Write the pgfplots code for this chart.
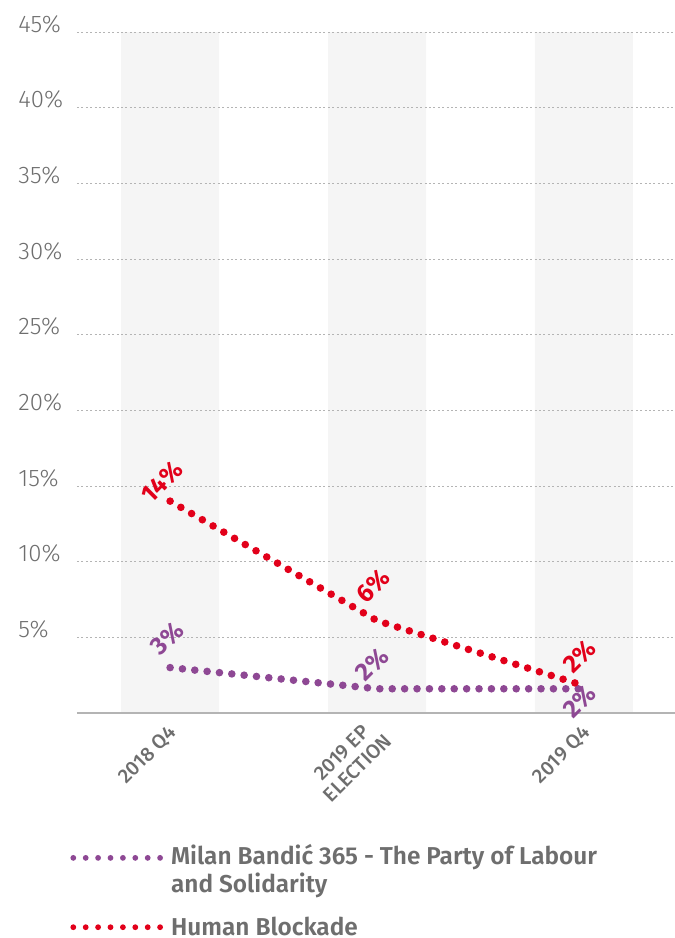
\documentclass[border=0pt]{standalone}
\usepackage{fontspec}
\setmainfont{Fira Sans}
\newfontfamily\firalight{Fira Sans Light}
\newfontfamily\firamed{Fira Sans Medium}
\newfontfamily\firasemi{Fira Sans SemiBold}
\usepackage{pgfplots}
\usepackage{pgfplotstable}
\pgfplotsset{compat=1.18}

\definecolor{hbred}{HTML}{E2001A}
\definecolor{mbpurple}{HTML}{8E4894}
\definecolor{txtgray}{HTML}{6E6E6E}
\definecolor{band}{HTML}{F5F5F5}
\definecolor{gridgray}{HTML}{B4B4B4}

% x: 0 = 2018 Q4, 1 = 2019 EP election, 2 = 2019 Q4
\pgfplotstableread{
x y lab dx dy
0 3.0 3 -1.5 14.5
1 1.6 2 -2.5 12
2 1.6 2 -2 -6.5
}\milan
\pgfplotstableread{
x y lab dx dy
0 14.0 14 -4 9.5
1 6.1 6 -2 17.5
2 1.8 2 -2 14.5
}\blockade
\pgfplotstableread{
x y
0 45
1 45
2 45
}\bands

\begin{document}
\begin{tikzpicture}
\begin{axis}[
    at={(0,0)}, anchor=south west,
    set layers,
    scale only axis,
    width=299pt, height=340.5pt,
    xmin=-0.45, xmax=2.44,
    ymin=0, ymax=45,
    axis lines*=left,
    y axis line style={draw=none},
    x axis line style={draw=gridgray, line width=0.7pt},
    major tick length=0pt,
    xtick={0,1,2},
    xticklabels={2018 Q4, {2019 EP\\ELECTION}, 2019 Q4},
    xticklabel style={font=\firamed\fontsize{10}{11}\selectfont, text=txtgray,
        align=center, xshift=4pt, yshift=-6pt, rotate=45, anchor=east},
    ytick={5,10,...,45},
    yticklabel={\pgfmathprintnumber{\tick}\%},
    yticklabel style={font=\firalight\fontsize{12}{13}\selectfont, text=txtgray,
        anchor=base west, inner sep=0pt, xshift=-29.5pt},
    /pgf/number format/assume math mode=true,
    ymajorgrids,
    major grid style={draw=gridgray, line width=0.5pt, dash pattern=on 1pt off 1.2pt},
    legend style={at={(-0.0117,-0.19)}, anchor=north west, draw=none, fill=none,
        inner sep=0pt, row sep=8.5pt,
        font=\firasemi\fontsize{12.2}{14}\selectfont, text=txtgray,
        nodes={align=left, inner sep=1pt}},
    legend cell align=left,
]
\addplot[ybar, bar width=49pt, fill=band, draw=none, on layer=axis background, forget plot] table {\bands};

\addplot[mbpurple, line width=3.8pt, line cap=round, dash pattern=on 0pt off 6.2pt,
    point meta=explicit, visualization depends on={\thisrow{dx} \as \dx},
    visualization depends on={\thisrow{dy} \as \dy},
    nodes near coords={\pgfmathprintnumber{\pgfplotspointmeta}\%},
    every node near coord/.style={font=\bfseries\fontsize{12.5}{12.5}\selectfont, text=mbpurple,
        anchor=center, xshift=\dx pt, yshift=\dy pt, rotate=45, inner sep=0pt},
    legend image code/.code={\draw[mbpurple, line width=2.9pt, line cap=round,
        dash pattern=on 0pt off 6.2pt] (0pt,6.25pt) -- (43.5pt,6.25pt);
        \path (46pt,6.25pt);}]
    table[x=x, y=y, meta=lab] {\milan};
\addlegendentry{Milan Bandić 365 - The Party of Labour\\and Solidarity}

\addplot[hbred, line width=3.8pt, line cap=round, dash pattern=on 0pt off 6.2pt,
    point meta=explicit, visualization depends on={\thisrow{dx} \as \dx},
    visualization depends on={\thisrow{dy} \as \dy},
    nodes near coords={\pgfmathprintnumber{\pgfplotspointmeta}\%},
    every node near coord/.style={font=\bfseries\fontsize{12.5}{12.5}\selectfont, text=hbred,
        anchor=center, xshift=\dx pt, yshift=\dy pt, rotate=45, inner sep=0pt},
    legend image code/.code={\draw[hbred, line width=2.9pt, line cap=round,
        dash pattern=on 0pt off 6.2pt] (0pt,0.25pt) -- (43.5pt,0.25pt);
        \path (46pt,0.25pt);}]
    table[x=x, y=y, meta=lab] {\blockade};
\addlegendentry{Human Blockade}
\end{axis}
\pgfresetboundingbox
\useasboundingbox (-38.5pt,-112.5pt) rectangle (299pt,356.5pt);
\end{tikzpicture}
\end{document}
